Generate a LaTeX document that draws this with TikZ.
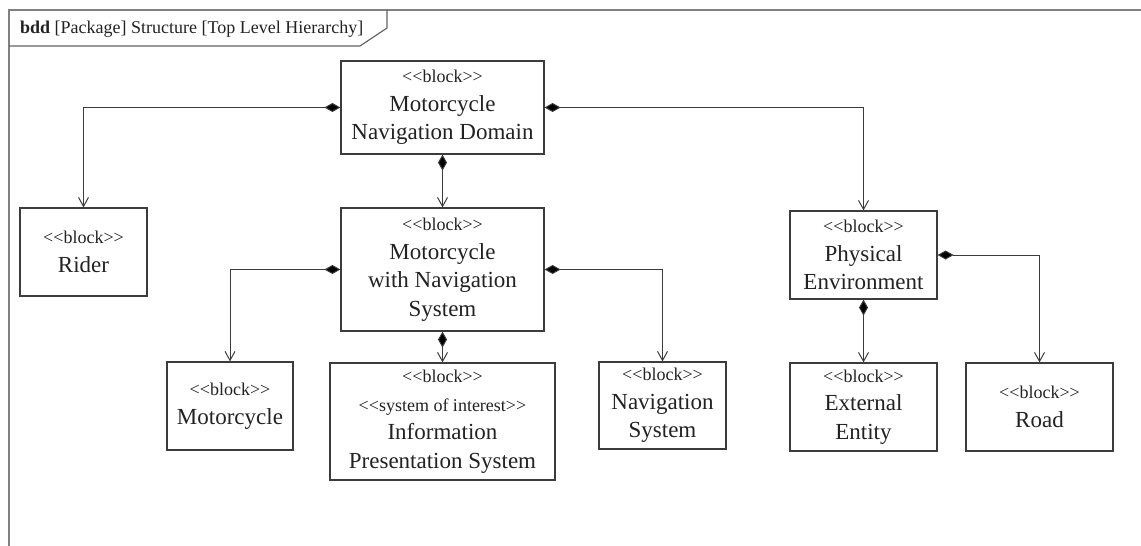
\documentclass[tikz,border=0pt]{standalone}
\usepackage{fontspec}
\setmainfont{Liberation Serif}
\usetikzlibrary{arrows.meta}
\definecolor{framegray}{HTML}{808080}
\definecolor{linegray}{HTML}{3C3C3C}
\definecolor{inkgray}{HTML}{222222}
% stereotype label, kept apart so << is not turned into a guillemet
\newcommand\stereo[1]{{\fontsize{18}{21}\selectfont<\kern0pt<#1>\kern0pt>}}
\tikzset{
  blockbox/.style={draw=linegray, line width=1.2pt, align=center, inner sep=2pt,
    text=inkgray, font=\fontsize{23}{28.5}\selectfont},
  comp/.style={draw=linegray, line width=1pt,
    {Diamond[length=16pt,width=9pt,fill=black]}-{Straight Barb[length=9pt,width=10pt,line width=1pt]}},
}
\begin{document}
\begin{tikzpicture}[x=1pt,y=-1pt]
\useasboundingbox (0,0) rectangle (1141,546);
% diagram frame and its header tab
\draw[framegray, line width=2pt] (1141,10) -- (9,10) -- (9,546);
\draw[linegray!80, line width=1.2pt] (9,46) -- (360,46) -- (387,28) -- (387,10);
\node[anchor=base west, inner sep=0pt, text=inkgray, font=\fontsize{18}{21}\selectfont]
  (hdr) at (20,33) {\textbf{bdd} [Package] Structure [Top Level Hierarchy]};

% blocks
\node[blockbox, minimum width=203pt, minimum height=93pt] (mnd) at (442.5,107.5)
  {\stereo{block}\\Motorcycle\\Navigation Domain};
\node[blockbox, minimum width=127pt, minimum height=88pt] (rider) at (83.5,252)
  {\stereo{block}\\Rider};
\node[blockbox, minimum width=203pt, minimum height=123pt] (mwns) at (442.5,269.5)
  {\stereo{block}\\Motorcycle\\with Navigation\\System};
\node[blockbox, minimum width=126pt, minimum height=88pt] (moto) at (230,406)
  {\stereo{block}\\Motorcycle};
\node[blockbox, minimum width=225pt, minimum height=117pt] (ips) at (442.5,421.5)
  {\stereo{block}\\\stereo{system of interest}\\Information\\Presentation System};
\node[blockbox, minimum width=127pt, minimum height=87pt] (nav) at (662.5,405.5)
  {\stereo{block}\\Navigation\\System};
\node[blockbox, minimum width=147pt, minimum height=88pt] (phys) at (863.5,255)
  {\stereo{block}\\Physical\\Environment};
\node[blockbox, minimum width=147pt, minimum height=88pt] (ext) at (863.5,407)
  {\stereo{block}\\External\\Entity};
\node[blockbox, minimum width=147pt, minimum height=88pt] (road) at (1039.5,407)
  {\stereo{block}\\Road};

% composition associations
\draw[comp] (mnd.west) -| (rider.north);
\draw[comp] (mnd.south) -- (mwns.north);
\draw[comp] (mnd.east) -| (phys.north);
\draw[comp] (mwns.west) -| (moto.north);
\draw[comp] (mwns.south) -- (ips.north);
\draw[comp] (mwns.east) -| (nav.north);
\draw[comp] (phys.south) -- (ext.north);
\draw[comp] (phys.east) -| (road.north);
\end{tikzpicture}
\end{document}
